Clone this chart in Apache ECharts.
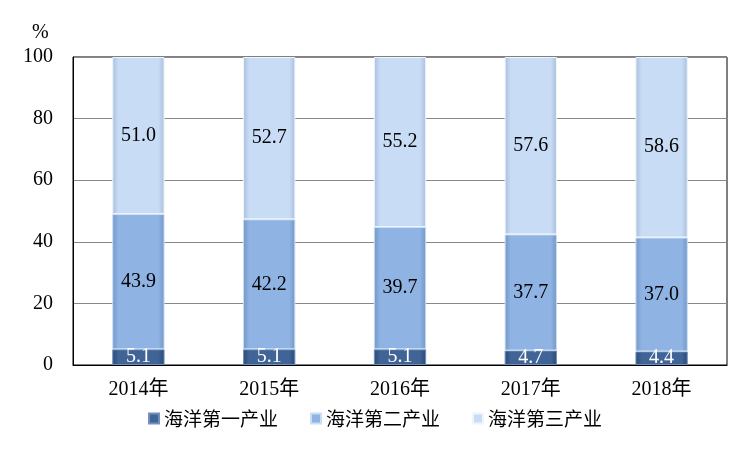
<!DOCTYPE html>
<html><head><meta charset="utf-8">
<script src="https://cdn.jsdelivr.net/npm/echarts@6/dist/echarts.min.js"></script>
<style>html,body{margin:0;padding:0;background:#fff}#c{width:750px;height:450px}</style>
</head><body><div id="c"></div>
<script>
const categories = ['2014年','2015年','2016年','2017年','2018年'];
const primary = [5.1, 5.1, 5.1, 4.7, 4.4];
const secondary = [43.9, 42.2, 39.7, 37.7, 37.0];
const tertiary = [51.0, 52.7, 55.2, 57.6, 58.6];
const seriesNames = ['海洋第一产业','海洋第二产业','海洋第三产业'];
const yTicks = {min: 0, max: 100, interval: 20};

const font = '"Times New Roman","Liberation Serif","Noto Sans CJK SC",serif';
function grad(edge, mid){
  return new echarts.graphic.LinearGradient(0,0,1,0,[
    {offset:0,color:edge},{offset:0.12,color:mid},{offset:0.88,color:mid},{offset:1,color:edge}]);
}
const chart = echarts.init(document.getElementById('c'));
const labelBase = {show:true, position:'inside', fontFamily:font, fontSize:20, formatter: p => p.value.toFixed(1)};
chart.setOption({
  animation:false,
  title:{text:'%', left:27, top:18, textStyle:{fontFamily:font, fontSize:20, fontWeight:'normal', color:'#000'}},
  grid:{left:73, right:23, top:57, bottom:85, show:true, borderColor:'#000', borderWidth:1},
  legend:{bottom:17, left:'center', itemWidth:10, itemHeight:10, itemGap:32,
    textStyle:{fontFamily:'"Noto Sans CJK SC",serif', fontSize:19, color:'#000'},
    data: seriesNames.map((n,i)=>({name:n, icon:'rect'}))},
  xAxis:{type:'category', data:categories,
    axisLine:{lineStyle:{color:'#000'}}, axisTick:{show:false},
    axisLabel:{fontFamily:font, fontSize:20, color:'#000', margin:15}},
  yAxis:{type:'value', min:yTicks.min, max:yTicks.max, interval:yTicks.interval,
    axisLine:{show:true, lineStyle:{color:'#000'}}, axisTick:{show:false},
    splitLine:{lineStyle:{color:'#888'}},
    axisLabel:{fontFamily:font, fontSize:20, color:'#000', margin:20}},
  series:[
    {name:seriesNames[0], type:'bar', stack:'a', data:primary, barWidth:'40%',
      itemStyle:{color:grad('#2c4a75','#3f6495'), borderColor:'#6f8fbf', borderWidth:1},
      label:Object.assign({}, labelBase, {color:'#fff'})},
    {name:seriesNames[1], type:'bar', stack:'a', data:secondary,
      itemStyle:{color:grad('#7297c6','#8fb4e3'), borderColor:'#c9ddf4', borderWidth:1},
      label:Object.assign({}, labelBase, {color:'#000'})},
    {name:seriesNames[2], type:'bar', stack:'a', data:tertiary,
      itemStyle:{color:grad('#a9bedb','#c8dcf5'), borderColor:'#eef5fd', borderWidth:1},
      label:Object.assign({}, labelBase, {color:'#000'})}
  ]
});
</script></body></html>
